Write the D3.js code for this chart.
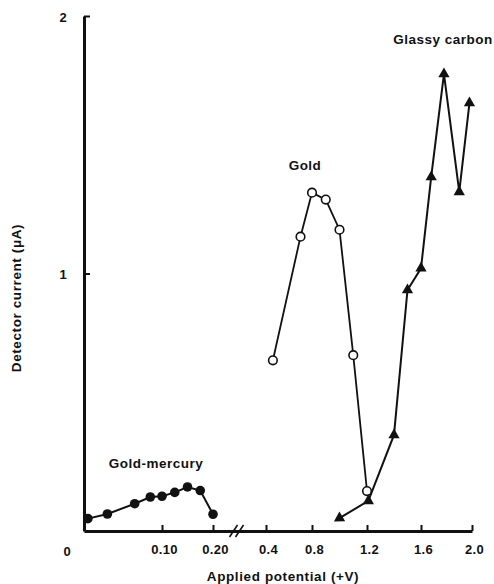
<!DOCTYPE html>
<html>
<head>
<meta charset="utf-8">
<script src="https://cdn.jsdelivr.net/npm/d3@7/dist/d3.min.js"></script>
<style>
  html, body { margin: 0; padding: 0; background: #fff; }
  svg text { font-family: "Liberation Sans", Arial, Helvetica, sans-serif; font-weight: bold; fill: #111; }
</style>
</head>
<body>
<svg id="chart" width="494" height="584"></svg>
<script>
// Applied potential (V) and detector current (µA) for three electrode materials
const goldMercuryX = [0.005, 0.03, 0.065, 0.085, 0.10, 0.125, 0.15, 0.175, 0.20];
const goldMercuryY = [0.048, 0.066, 0.106, 0.132, 0.135, 0.150, 0.171, 0.157, 0.065];

const goldX = [0.46, 0.70, 0.80, 0.90, 1.00, 1.10, 1.20];
const goldY = [0.663, 1.143, 1.314, 1.287, 1.170, 0.683, 0.155];

const glassyX = [1.00, 1.21, 1.40, 1.50, 1.60, 1.68, 1.78, 1.90, 1.98];
const glassyY = [0.050, 0.117, 0.373, 0.936, 1.020, 1.375, 1.775, 1.317, 1.662];

// Axis ticks (the potential axis is broken between 0.20 and 0.4 V)
const xTickValues = [0.10, 0.20, 0.4, 0.8, 1.2, 1.6, 2.0];
const xTickLabels = ["0.10", "0.20", "0.4", "0.8", "1.2", "1.6", "2.0"];
const yTickValues = [1, 2];
const yTickLabels = ["1", "2"];

const svg = d3.select("#chart");

// Piecewise scale: expanded low-potential segment, then the 0.4–2.0 V segment
const x = d3.scaleLinear()
  .domain([0, 0.10, 0.20, 0.4, 0.8, 1.2, 1.6, 2.0])
  .range([84, 162, 213, 266, 312, 367, 421, 472]);
const y = d3.scaleLinear().domain([0, 2]).range([531, 16]);

const tickFont = sel => sel.attr("font-size", 13)
  .style("font-family", "'Liberation Sans', Arial, sans-serif")
  .style("font-weight", "bold").style("letter-spacing", "0.3px");

// X axis
const xAxis = svg.append("g")
  .attr("transform", `translate(0,${y(0)})`)
  .call(d3.axisBottom(x)
    .tickValues(xTickValues)
    .tickFormat((d, i) => xTickLabels[i])
    .tickSizeInner(-6)
    .tickSizeOuter(0)
    .tickPadding(14));
xAxis.select(".domain").attr("stroke", "#111").attr("stroke-width", 3);
xAxis.selectAll(".tick line").attr("stroke", "#111").attr("stroke-width", 2);
xAxis.selectAll(".tick text").call(tickFont).attr("dx", 2);

// Axis break marks
const bx = (x(0.20) + x(0.4)) / 2 - 3;
[-3, 3].forEach(off => {
  svg.append("line")
    .attr("x1", bx + off - 4).attr("y1", y(0) + 6)
    .attr("x2", bx + off + 4).attr("y2", y(0) - 6)
    .attr("stroke", "#111").attr("stroke-width", 1.6);
});

// Y axis
const yAxis = svg.append("g")
  .attr("transform", `translate(${x(0)},0)`)
  .call(d3.axisLeft(y)
    .tickValues(yTickValues)
    .tickFormat((d, i) => yTickLabels[i])
    .tickSizeInner(-6)
    .tickSizeOuter(0)
    .tickPadding(17));
yAxis.select(".domain").attr("stroke", "#111").attr("stroke-width", 3);
yAxis.selectAll(".tick line").attr("stroke", "#111").attr("stroke-width", 2);
yAxis.selectAll(".tick text").call(tickFont).attr("dy", "0.4em");

// Shared origin label
svg.append("text")
  .attr("x", 67).attr("y", y(0) + 25)
  .attr("text-anchor", "middle").attr("font-size", 13).text("0");

// Axis titles
svg.append("text")
  .attr("x", 283).attr("y", 581)
  .attr("text-anchor", "middle").attr("font-size", 13.5)
  .style("letter-spacing", "0.6px")
  .text("Applied potential (+V)");
svg.append("text")
  .attr("transform", "translate(21,298) rotate(-90)")
  .attr("text-anchor", "middle").attr("font-size", 13.5)
  .style("letter-spacing", "0.6px")
  .text("Detector current (\u03bcA)");

const line = d3.line().x(d => x(d[0])).y(d => y(d[1]));
const zip = (xs, ys) => xs.map((v, i) => [v, ys[i]]);

const gmData = zip(goldMercuryX, goldMercuryY);
const goldData = zip(goldX, goldY);
const glassyData = zip(glassyX, glassyY);

// Gold-mercury: filled circles
svg.append("path").datum(gmData).attr("d", line)
  .attr("fill", "none").attr("stroke", "#111").attr("stroke-width", 2);
svg.selectAll(".gm").data(gmData).join("circle")
  .attr("cx", d => x(d[0])).attr("cy", d => y(d[1])).attr("r", 4.8)
  .attr("fill", "#111");

// Gold: open circles
svg.append("path").datum(goldData).attr("d", line)
  .attr("fill", "none").attr("stroke", "#111").attr("stroke-width", 1.8);
svg.selectAll(".au").data(goldData).join("circle")
  .attr("cx", d => x(d[0])).attr("cy", d => y(d[1])).attr("r", 4.3)
  .attr("fill", "#fff").attr("stroke", "#111").attr("stroke-width", 1.6);

// Glassy carbon: filled triangles, first one points back along the trace
svg.append("path").datum(glassyData).attr("d", line)
  .attr("fill", "none").attr("stroke", "#111").attr("stroke-width", 2);
const tri = d3.symbol().type(d3.symbolTriangle).size(55);
svg.selectAll(".gc").data(glassyData).join("path")
  .attr("d", tri)
  .attr("fill", "#111")
  .attr("transform", (d, i) => {
    let rot = 0;
    if (i === 0) {
      const n = glassyData[1];
      const ang = Math.atan2(y(d[1]) - y(n[1]), x(d[0]) - x(n[0])) * 180 / Math.PI;
      rot = ang + 90;
    }
    return `translate(${x(d[0])},${y(d[1])}) rotate(${rot})`;
  });

// Series labels
const seriesLabel = (lx, ly, txt) => svg.append("text")
  .attr("x", lx).attr("y", ly)
  .attr("text-anchor", "middle").attr("font-size", 13.5)
  .style("letter-spacing", "0.5px").text(txt);
seriesLabel(156, 468, "Gold-mercury");
seriesLabel(305, 170, "Gold");
seriesLabel(443, 44, "Glassy carbon");
</script>
</body>
</html>
